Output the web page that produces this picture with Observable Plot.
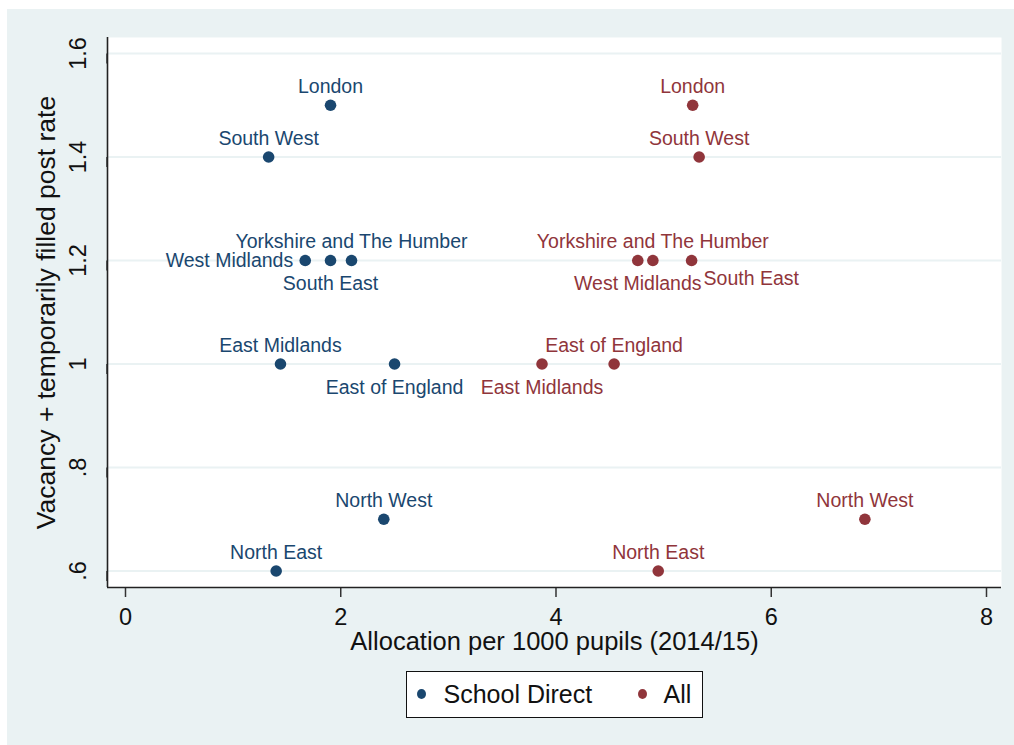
<!DOCTYPE html>
<html><head><meta charset="utf-8">
<script src="https://cdn.jsdelivr.net/npm/d3@7"></script>
<script src="https://cdn.jsdelivr.net/npm/@observablehq/plot@0.6"></script>
<style>
html,body{margin:0;padding:0;background:#fff;}
#wrap{position:absolute;left:7px;top:9px;width:1007px;height:736px;background:#eaf2f3;font-family:"Liberation Sans",Arial,sans-serif;}
#chart svg{display:block;}
#legend{position:absolute;left:399px;top:662px;width:297px;height:47px;box-sizing:border-box;border:1.5px solid #111;background:#fff;}
#legend .dot{position:absolute;width:9px;height:10px;border-radius:50%;top:17px;}
#legend .lab{position:absolute;top:0;line-height:44px;font-size:25px;color:#111;white-space:nowrap;}
</style>
</head><body>
<div id="wrap"><div id="chart"></div><div id="legend"></div></div>
<script>
// ---- data ----
const regions = ["London","South West","West Midlands","Yorkshire and The Humber","South East","East Midlands","East of England","North West","North East"];
const rate = [1.5, 1.4, 1.2, 1.2, 1.2, 1.0, 1.0, 0.7, 0.6];
const schoolDirectAlloc = [1.905, 1.33, 1.67, 2.10, 1.905, 1.44, 2.50, 2.40, 1.40];
const allAlloc = [5.27, 5.33, 4.76, 4.90, 5.26, 3.87, 4.54, 6.87, 4.95];
// Stata-style label clock positions
const schoolDirectLabelPos = [12, 12, 9, 12, 6, 12, 6, 12, 12];
const allLabelPos = [12, 12, 6, 12, 4, 6, 12, 12, 12];
const seriesNames = ["School Direct", "All"];
const seriesColors = ["#1a476f", "#90353b"];
const xTicks = [0, 2, 4, 6, 8];
const yTicks = [0.6, 0.8, 1.0, 1.2, 1.4, 1.6];
const xTitle = "Allocation per 1000 pupils (2014/15)";
const yTitle = "Vacancy + temporarily filled post rate";

const rows = [
  ...regions.map((r, i) => ({region: r, alloc: schoolDirectAlloc[i], rate: rate[i], series: seriesNames[0], pos: schoolDirectLabelPos[i]})),
  ...regions.map((r, i) => ({region: r, alloc: allAlloc[i], rate: rate[i], series: seriesNames[1], pos: allLabelPos[i]}))
];

const xDomain = [-0.1672, 8.1394];
const yDomain = [0.5681, 1.6309];
const fmtY = d => d === 1 ? "1" : (d < 1 ? d.toFixed(1).replace(/^0/, "") : d.toFixed(1));
const labFont = 19.5;

const chart = Plot.plot({
  width: 1007,
  height: 651,
  marginLeft: 100,
  marginRight: 13,
  marginTop: 28,
  marginBottom: 73,
  style: {background: "transparent", fontFamily: "'Liberation Sans', Arial, sans-serif", overflow: "visible"},
  x: {domain: xDomain},
  y: {domain: yDomain},
  color: {domain: seriesNames, range: seriesColors},
  marks: [
    Plot.frame({fill: "white", stroke: "none"}),
    Plot.gridY(yTicks, {stroke: "#eaf2f3", strokeOpacity: 1, strokeWidth: 2}),
    Plot.dot(rows, {x: "alloc", y: "rate", fill: "series", r: 5.8}),
    Plot.text(rows.filter(d => d.pos === 12), {x: "alloc", y: "rate", text: "region", fill: "series", fontSize: labFont, lineAnchor: "bottom", dy: -12}),
    Plot.text(rows.filter(d => d.pos === 6), {x: "alloc", y: "rate", text: "region", fill: "series", fontSize: labFont, lineAnchor: "top", dy: 16}),
    Plot.text(rows.filter(d => d.pos === 9), {x: "alloc", y: "rate", text: "region", fill: "series", fontSize: labFont, textAnchor: "end", lineAnchor: "middle", dx: -12}),
    Plot.text(rows.filter(d => d.pos === 4), {x: "alloc", y: "rate", text: "region", fill: "series", fontSize: labFont, textAnchor: "start", lineAnchor: "top", dx: 12, dy: 11}),
    Plot.axisX(xTicks, {tickSize: 10, tickPadding: 11, fontSize: 23.5, label: null, stroke: "#333", strokeWidth: 1.5, fill: "#111", tickFormat: d => String(d)}),
    Plot.axisY(yTicks, {tickSize: 10, tickPadding: 12, fontSize: 23.5, label: null, rotate: -90, textAnchor: "middle", lineAnchor: "bottom", stroke: "#333", strokeWidth: 1.5, fill: "#111", tickFormat: fmtY}),
    Plot.ruleX([xDomain[0]], {stroke: "#222", strokeWidth: 1.6}),
    Plot.ruleY([yDomain[0]], {stroke: "#222", strokeWidth: 1.6}),
    Plot.text([xTitle], {text: d => d, frameAnchor: "bottom", lineAnchor: "bottom", dy: 62, fontSize: 25.5, fill: "#111"}),
    Plot.text([yTitle], {text: d => d, frameAnchor: "left", rotate: -90, textAnchor: "middle", lineAnchor: "bottom", dx: -53, fontSize: 26.5, fill: "#111"})
  ]
});
document.getElementById("chart").appendChild(chart);

// legend
const legend = document.getElementById("legend");
const legendX = [[16, 38], [237, 258]];
seriesNames.forEach((name, i) => {
  const dot = document.createElement("span");
  dot.className = "dot";
  dot.style.left = (legendX[i][0] - 4.5 - 1.5) + "px";
  dot.style.background = seriesColors[i];
  legend.appendChild(dot);
  const lab = document.createElement("span");
  lab.className = "lab";
  lab.style.left = (legendX[i][1] - 1.5) + "px";
  lab.textContent = name;
  legend.appendChild(lab);
});
</script>
</body></html>
